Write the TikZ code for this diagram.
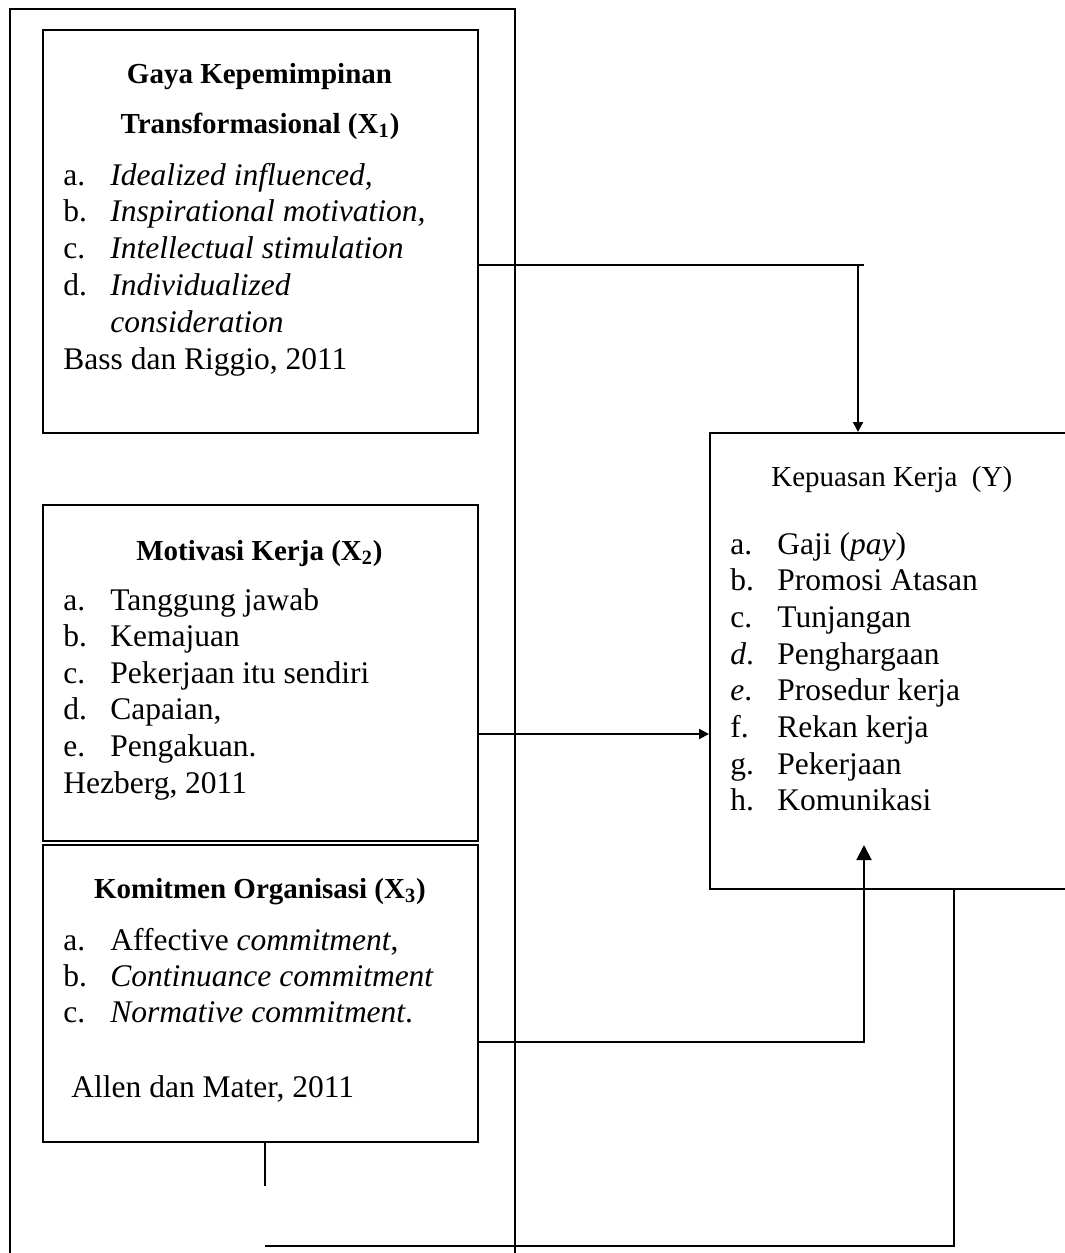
\documentclass[tikz,border=0pt]{standalone}
\usepackage{fontspec}
\setmainfont{Liberation Serif}
\usetikzlibrary{arrows.meta,positioning}
\tikzset{
  >=stealth,
  line cap=round,
  line join=round,
  box/.style={draw, rectangle, anchor=north west, inner sep=0pt, line width=1pt},
  head/.style={anchor=base, inner sep=0pt, font=\fontsize{14.5}{17}\selectfont\bfseries},
  lbl/.style={anchor=base west, inner sep=0pt, font=\fontsize{15.75}{18}\selectfont},
  link/.style={line width=1pt},
  arrow/.style={-{Triangle[width=5pt,length=5pt]}, line width=1pt},
  bigarrow/.style={-{Triangle[width=7.5pt,length=7.5pt]}, line width=1pt}
}

\begin{document}
\begin{tikzpicture}[x=0.5pt, y=-0.5pt]
  \useasboundingbox (0,0) rectangle (1065,1253);
  \clip (0,0) rectangle (1065,1253);

  % boxes
  \node[box, minimum width=252.5pt, minimum height=640pt] (frame) at (9,8) {};
  \node[box, minimum width=217.5pt, minimum height=201.5pt] (x1) at (42,29) {};
  \node[box, minimum width=217.5pt, minimum height=168pt] (x2) at (42,504) {};
  \node[box, minimum width=217.5pt, minimum height=148.5pt] (x3) at (42,844) {};
  \node[box, minimum width=185.5pt, minimum height=228pt] (y) at (709,432) {};

  % X1
  \node[head] (x1h1) at (259.5,83) {Gaya Kepemimpinan};
  \node[head] (x1h2) at (260,133) {Transformasional (X\textsubscript{1})};
  \foreach \lab/\txt [count=\i from 0] in {
      a./{\itshape Idealized influenced,},
      b./{\itshape Inspirational motivation,},
      c./{\itshape Intellectual stimulation},
      d./{\itshape Individualized}} {
    \node[lbl] (x1l\i) at (63,185+36.75*\i) {\lab};
    \node[lbl] (x1t\i) at (110,185+36.75*\i) {\txt};
  }
  \node[lbl] (x1t4) at (110,332) {\itshape consideration};
  \node[lbl] (x1src) at (63,369) {Bass dan Riggio, 2011};

  % X2
  \node[head] (x2h) at (259.5,560) {Motivasi Kerja (X\textsubscript{2})};
  \foreach \lab/\txt [count=\i from 0] in {
      a./Tanggung jawab,
      b./Kemajuan,
      c./Pekerjaan itu sendiri,
      d./{Capaian,},
      e./Pengakuan.} {
    \node[lbl] (x2l\i) at (63,610+36.6*\i) {\lab};
    \node[lbl] (x2t\i) at (110,610+36.6*\i) {\txt};
  }
  \node[lbl] (x2src) at (63,793) {Hezberg, 2011};

  % X3
  \node[head] (x3h) at (260,898) {Komitmen Organisasi (X\textsubscript{3})};
  \foreach \lab/\txt [count=\i from 0] in {
      a./{Affective \textit{commitment},},
      b./{\itshape Continuance commitment},
      c./{\textit{Normative commitment}.}} {
    \node[lbl] (x3l\i) at (63,950+36*\i) {\lab};
    \node[lbl] (x3t\i) at (110,950+36*\i) {\txt};
  }
  \node[lbl] (x3src) at (71,1097) {Allen dan Mater, 2011};

  % Y
  \node[lbl, font=\fontsize{14.5}{17}\selectfont] (yh) at (771,486) {Kepuasan Kerja\ \ (Y)};
  \foreach \lab/\txt [count=\i from 0] in {
      a./{Gaji (\textit{pay})},
      b./Promosi Atasan,
      c./Tunjangan,
      \textit{d}./Penghargaan,
      \textit{e}./Prosedur kerja,
      f./Rekan kerja,
      g./Pekerjaan,
      h./Komunikasi} {
    \node[lbl] (yl\i) at (730,554+36.7*\i) {\lab};
    \node[lbl] (yt\i) at (777,554+36.7*\i) {\txt};
  }

  % connectors
  \coordinate (k0) at (864,265);
  \coordinate (k1) at (858,265);
  \draw[link] (x1.east |- k0) -- (k0);
  \draw[arrow] (k1) -- (k1 |- y.north);

  \coordinate (k2) at (0,734);
  \draw[arrow] (x2.east |- k2) -- (y.west |- k2);

  \coordinate (k3) at (864,1042);
  \coordinate (k4) at (864,845);
  \draw[bigarrow] (x3.east |- k3) -- (k3) -- (k4);

  \coordinate (k5) at (954,1246);
  \coordinate (k6) at (265,1246);
  \coordinate (k7) at (265,1186);
  \draw[link] (k5 |- y.south) -- (k5) -- (k6);
  \draw[link] (x3.south -| k7) -- (k7);
\end{tikzpicture}
\end{document}
